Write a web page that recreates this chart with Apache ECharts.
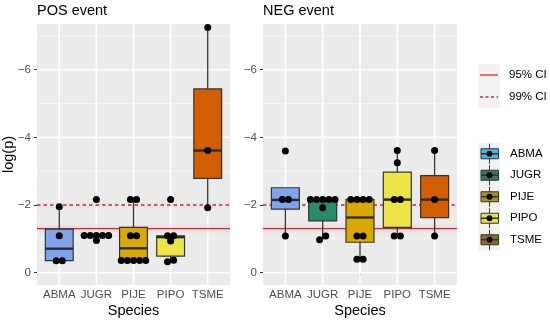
<!DOCTYPE html>
<html><head><meta charset="utf-8">
<script src="https://cdn.jsdelivr.net/npm/echarts@6/dist/echarts.min.js"></script>
<style>html,body{margin:0;padding:0;background:#fff}#c{width:550px;height:321px}</style>
</head><body><div id="c"></div>
<script>
// ---------- data (log(p)) ----------
const species = ['ABMA','JUGR','PIJE','PIPO','TSME'];
const panelTitles = ['POS event','NEG event'];
// box stats: [upper whisker end, upper hinge, median, lower hinge, lower whisker end]
const posBoxes = [
  [-1.95, -1.29, -0.71, -0.355, -0.355],
  [-1.10, -1.10, -1.10, -1.10, -1.10],
  [-2.16, -1.34, -0.72, -0.35, -0.35],
  [-1.09, -1.09, -1.05, -0.49, -0.33],
  [-7.25, -5.43, -3.61, -2.79, -1.92]
];
const negBoxes = [
  [-2.51, -2.51, -2.15, -1.88, -1.085],
  [-2.17, -2.17, -2.16, -1.53, -0.97],
  [-2.17, -2.17, -1.63, -0.90, -0.40],
  [-3.61, -2.97, -2.16, -1.34, -1.085],
  [-3.61, -2.87, -2.16, -1.63, -1.085]
];
const posPoints = [
  [-1.95, -1.09, -0.355, -0.355],
  [-2.16, -1.10, -1.10, -1.10, -1.10, -1.10, -0.95],
  [-2.16, -2.16, -1.09, -1.09, -0.36, -0.36, -0.36, -0.36, -0.36],
  [-2.16, -1.09, -1.09, -0.94, -0.37, -0.32],
  [-7.25, -3.61, -1.92]
];
const negPoints = [
  [-3.60, -2.16, -2.16, -1.085],
  [-2.16, -2.16, -2.16, -2.16, -2.16, -1.92, -1.085, -0.97],
  [-2.16, -2.16, -2.16, -2.16, -1.085, -1.085, -0.40, -0.40],
  [-3.61, -3.25, -2.16, -2.16, -1.085, -1.085],
  [-3.61, -2.16, -1.085]
];
const yMajor = [-6, -4, -2, 0];
const yMinor = [-7, -5, -3, -1];
const ciNames = ['95% CI', '99% CI'];
const ciValues = [-1.301, -2.0];

// ---------- styles ----------
const FONT = 'Liberation Sans, Arial, Helvetica, sans-serif';
const boxFill = ['#7fa3ec', '#2a8b6b', '#d9a900', '#ede548', '#d35e00'];
const keyFill = ['#4fb0e8', '#317a66', '#a8901c', '#e6e63a', '#8a6b1f'];
const gridBoxes = [{left: 37, top: 24, width: 193, height: 261}, {left: 263, top: 24, width: 194, height: 261}];
const yMin = -7.35, yMax = 0.364;

function dotData(groups) {
  const out = [];
  groups.forEach((vals, i) => {
    const sorted = vals.slice().sort((a, b) => b - a);
    let g = [];
    const flush = () => {
      const k = g.length;
      g.forEach((v, j) => out.push([i + 1 + (j - (k - 1) / 2) * 0.165, v]));
      g = [];
    };
    sorted.forEach(v => {
      if (g.length && Math.abs(g[0] - v) > 0.13) flush();
      g.push(v);
    });
    if (g.length) flush();
  });
  return out;
}

function hLines(gi, values, width, color, dash, z) {
  return {type: 'custom', xAxisIndex: gi, yAxisIndex: gi, z, silent: true, animation: false,
    data: values.map(v => [v]),
    renderItem(params, api) {
      const cs = params.coordSys;
      const y = api.coord([1, api.value(0)])[1];
      return {type: 'line', shape: {x1: cs.x, y1: y, x2: cs.x + cs.width, y2: y},
        style: {stroke: color, lineWidth: width, lineDash: dash || null}};
    }};
}
function vLines(gi, values, width, color, z) {
  return {type: 'custom', xAxisIndex: gi, yAxisIndex: gi, z, silent: true, animation: false,
    data: values.map(v => [v]),
    renderItem(params, api) {
      const cs = params.coordSys;
      const x = api.coord([api.value(0), 0])[0];
      return {type: 'line', shape: {x1: x, y1: cs.y, x2: x, y2: cs.y + cs.height},
        style: {stroke: color, lineWidth: width}};
    }};
}
function boxSeries(gi, boxes) {
  return {type: 'custom', xAxisIndex: gi, yAxisIndex: gi, z: 4, silent: true, animation: false,
    data: boxes.map((b, i) => [i + 1].concat(b)),
    encode: {x: 0, y: [1, 2, 3, 4, 5]},
    renderItem(params, api) {
      const x = api.value(0);
      const p = [1, 2, 3, 4, 5].map(d => api.coord([x, api.value(d)]));
      const cx = p[0][0];
      const w = api.size([0.75, 0])[0];
      const top = Math.min(p[1][1], p[3][1]);
      const h = Math.abs(p[3][1] - p[1][1]);
      const col = boxFill[x - 1];
      return {type: 'group', children: [
        {type: 'line', shape: {x1: cx, y1: p[0][1], x2: cx, y2: p[1][1]}, style: {stroke: '#333', lineWidth: 1.3}},
        {type: 'line', shape: {x1: cx, y1: p[3][1], x2: cx, y2: p[4][1]}, style: {stroke: '#333', lineWidth: 1.3}},
        {type: 'rect', shape: {x: cx - w / 2, y: top, width: w, height: h},
          style: {fill: col, opacity: 1, stroke: '#333', lineWidth: 1.2}},
        {type: 'line', shape: {x1: cx - w / 2, y1: p[2][1], x2: cx + w / 2, y2: p[2][1]}, style: {stroke: '#2b2b2b', lineWidth: 2.4}}
      ]};
    }};
}
function dotSeries(gi, pts) {
  return {type: 'scatter', xAxisIndex: gi, yAxisIndex: gi, z: 5, silent: true, animation: false,
    symbolSize: 7, itemStyle: {color: '#000', opacity: 1}, data: dotData(pts)};
}

const series = [];
[posBoxes, negBoxes].forEach((boxes, gi) => {
  const pts = gi === 0 ? posPoints : negPoints;
  series.push(hLines(gi, yMinor, 0.8, '#f7f7f7', null, 1));
  series.push(hLines(gi, yMajor, 1.6, '#ffffff', null, 1));
  series.push(vLines(gi, [1, 2, 3, 4, 5], 1.6, '#ffffff', 1));
  series.push(hLines(gi, [ciValues[0]], 7, 'rgba(255,185,205,0.35)', null, 2));
  series.push(hLines(gi, [ciValues[1]], 5, 'rgba(255,185,205,0.2)', null, 2));
  series.push(hLines(gi, [ciValues[0]], 1.4, '#a83a2a', null, 3));
  series.push(hLines(gi, [ciValues[1]], 1.4, '#a0391f', [3.5, 3], 3));
  series.push(boxSeries(gi, boxes));
  series.push(dotSeries(gi, pts));
});

function xAx(gi) {
  return {type: 'value', gridIndex: gi, min: 0.4, max: 5.6,
    splitLine: {show: false}, axisLine: {show: false},
    axisTick: {show: true, customValues: [1, 2, 3, 4, 5], length: 3, lineStyle: {color: '#333', width: 1}},
    axisLabel: {customValues: [1, 2, 3, 4, 5], formatter: v => species[Math.round(v) - 1] || '',
      color: '#4d4d4d', fontSize: 11.5, fontFamily: FONT, margin: 4},
    name: 'Species', nameLocation: 'middle', nameGap: 18.5, nameMoveOverlap: false,
    nameTextStyle: {color: '#000', fontSize: 14.5, fontFamily: FONT}};
}
function yAx(gi) {
  const ax = {type: 'value', gridIndex: gi, min: yMin, max: yMax, inverse: true,
    splitLine: {show: false}, axisLine: {show: false},
    axisTick: {show: true, customValues: yMajor, length: 3, lineStyle: {color: '#333', width: 1}},
    axisLabel: {customValues: yMajor, formatter: v => v === 0 ? '0' : '\u2212' + Math.abs(v),
      color: '#4d4d4d', fontSize: 11.5, fontFamily: FONT, margin: 6}};
  if (gi === 0) {
    ax.name = 'log(p)'; ax.nameLocation = 'middle'; ax.nameGap = 21; ax.nameRotate = 90;
    ax.nameMoveOverlap = false;
    ax.nameTextStyle = {color: '#000', fontSize: 14.5, fontFamily: FONT};
  }
  return ax;
}

// legend graphics
const graphic = [];
graphic.push({type: 'rect', shape: {x: 478, y: 64, width: 22, height: 44}, style: {fill: '#f2f2f2'}});
graphic.push({type: 'line', shape: {x1: 480, y1: 75, x2: 498, y2: 75}, style: {stroke: '#e8202a', lineWidth: 1.3}});
graphic.push({type: 'line', shape: {x1: 480, y1: 97, x2: 498, y2: 97}, style: {stroke: '#e8202a', lineWidth: 1.3, lineDash: [3, 2.5]}});
ciNames.forEach((n, i) => graphic.push({type: 'text', x: 509, y: 75 + i * 22,
  style: {text: n, fill: '#000', fontSize: 11.5, fontFamily: FONT, verticalAlign: 'middle'}}));
graphic.push({type: 'rect', shape: {x: 478, y: 143, width: 22, height: 107.5}, style: {fill: '#f2f2f2'}});
species.forEach((s, i) => {
  const cy = 153.75 + i * 21.5;
  graphic.push({type: 'line', shape: {x1: 489.5, y1: cy - 10, x2: 489.5, y2: cy + 10}, style: {stroke: '#333', lineWidth: 1}});
  graphic.push({type: 'rect', shape: {x: 481, y: cy - 5, width: 17.5, height: 10}, style: {fill: keyFill[i], stroke: '#333', lineWidth: 1}});
  graphic.push({type: 'line', shape: {x1: 481, y1: cy, x2: 498.5, y2: cy}, style: {stroke: '#333', lineWidth: 1.5}});
  graphic.push({type: 'circle', shape: {cx: 489.5, cy: cy, r: 3}, style: {fill: '#000'}});
  graphic.push({type: 'text', x: 510, y: cy, style: {text: s, fill: '#000', fontSize: 11.5, fontFamily: FONT, verticalAlign: 'middle'}});
});

const chart = echarts.init(document.getElementById('c'), null, {renderer: 'canvas'});
chart.setOption({
  animation: false,
  backgroundColor: '#fff',
  title: panelTitles.map((t, i) => ({text: t, left: gridBoxes[i].left, top: 3, padding: 0,
    textStyle: {fontSize: 14.5, fontWeight: 'normal', color: '#000', fontFamily: FONT}})),
  grid: gridBoxes.map(g => Object.assign({show: true, backgroundColor: '#ebebeb', borderWidth: 0,
    containLabel: false, outerBoundsMode: 'none'}, g)),
  xAxis: [xAx(0), xAx(1)],
  yAxis: [yAx(0), yAx(1)],
  series,
  graphic
});
</script></body></html>
